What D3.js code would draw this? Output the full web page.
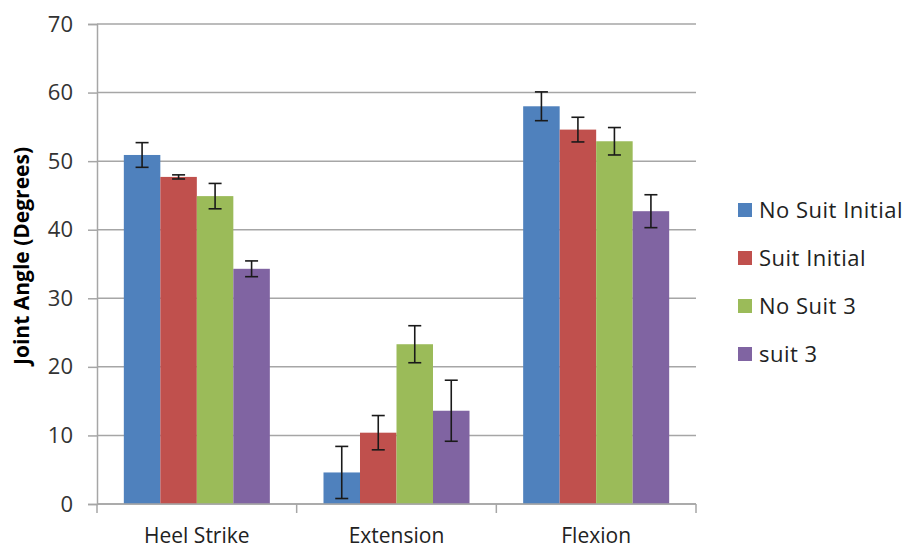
<!DOCTYPE html>
<html>
<head>
<meta charset="utf-8">
<script src="https://cdn.jsdelivr.net/npm/d3@7/dist/d3.min.js"></script>
<style>
  html, body { margin: 0; padding: 0; background: #fff; }
  svg { display: block; font-family: "Open Sans", sans-serif; }
</style>
</head>
<body>
<svg id="chart" width="906" height="548"></svg>
<script>
const categories = ["Heel Strike", "Extension", "Flexion"];
const seriesNames = ["No Suit Initial", "Suit Initial", "No Suit 3", "suit 3"];
const seriesColors = ["#4F81BD", "#C0504D", "#9BBB59", "#8064A2"];
const noSuitInitial = [50.9, 4.6, 58.0];
const suitInitial = [47.7, 10.4, 54.6];
const noSuit3 = [44.9, 23.3, 52.9];
const suit3 = [34.3, 13.6, 42.7];
const errNoSuitInitial = [1.8, 3.8, 2.1];
const errSuitInitial = [0.3, 2.5, 1.8];
const errNoSuit3 = [1.85, 2.7, 2.0];
const errSuit3 = [1.15, 4.45, 2.4];
const yTicks = [0, 10, 20, 30, 40, 50, 60, 70];
const yTitle = "Joint Angle (Degrees)";

const values = [noSuitInitial, suitInitial, noSuit3, suit3];
const errors = [errNoSuitInitial, errSuitInitial, errNoSuit3, errSuit3];

const svg = d3.select("#chart");
const margin = { left: 97, right: 210, top: 24, bottom: 44 };
const W = 906, H = 548;

const y = d3.scaleLinear().domain([0, 70]).range([H - margin.bottom, margin.top]);
const x0 = d3.scaleBand().domain(categories).range([margin.left, W - margin.right]).paddingInner(0).paddingOuter(0);
const x1 = d3.scaleBand().domain(seriesNames).range([0, x0.bandwidth()]).paddingInner(0).paddingOuter(0.735);

const gridColor = "#a6a6a6";

// gridlines
svg.append("g").selectAll("line").data(yTicks).join("line")
  .attr("x1", margin.left).attr("x2", W - margin.right)
  .attr("y1", d => y(d)).attr("y2", d => y(d))
  .attr("stroke", gridColor).attr("stroke-width", 1.5);

// y axis
const yAxis = svg.append("g").attr("transform", `translate(${margin.left},0)`)
  .call(d3.axisLeft(y).tickValues(yTicks).tickSize(9).tickPadding(15).tickFormat(d3.format("d")));
yAxis.select(".domain").attr("stroke", gridColor).attr("stroke-width", 1.5);
yAxis.selectAll(".tick line").attr("stroke", gridColor).attr("stroke-width", 1.5);
yAxis.selectAll(".tick text").attr("font-size", 22).attr("fill", "#333").attr("font-family", "Open Sans, sans-serif");

// bars
const groups = svg.append("g").selectAll("g").data(seriesNames).join("g");
groups.each(function(s, si) {
  const g = d3.select(this);
  g.selectAll("rect").data(categories).join("rect")
    .attr("x", c => x0(c) + x1(s))
    .attr("width", x1.bandwidth())
    .attr("y", (c, ci) => y(values[si][ci]))
    .attr("height", (c, ci) => y(0) - y(values[si][ci]))
    .attr("fill", seriesColors[si]);
});

// x axis
const xAxisG = svg.append("g").attr("transform", `translate(0,${y(0)})`);
xAxisG.append("line").attr("x1", margin.left).attr("x2", W - margin.right)
  .attr("stroke", gridColor).attr("stroke-width", 1.5);
const xBounds = categories.map(c => x0(c)).concat([x0(categories[categories.length - 1]) + x0.bandwidth()]);
xAxisG.selectAll("line.tk").data(xBounds).join("line").attr("class", "tk")
  .attr("x1", d => d).attr("x2", d => d).attr("y1", 0).attr("y2", 9)
  .attr("stroke", gridColor).attr("stroke-width", 1.5);
xAxisG.selectAll("text").data(categories).join("text")
  .attr("x", c => x0(c) + x0.bandwidth() / 2).attr("y", 39)
  .attr("text-anchor", "middle").attr("font-size", 21).attr("fill", "#222")
  .text(c => c);

// error bars
const capW = 13;
const eg = svg.append("g");
seriesNames.forEach((s, si) => {
  categories.forEach((c, ci) => {
    const cx = x0(c) + x1(s) + x1.bandwidth() / 2;
    const v = values[si][ci], e = errors[si][ci];
    const g = eg.append("g").attr("stroke", "#1a1a1a").attr("stroke-width", 1.6);
    g.append("line").attr("x1", cx).attr("x2", cx).attr("y1", y(v + e)).attr("y2", y(v - e));
    g.append("line").attr("x1", cx - capW / 2).attr("x2", cx + capW / 2).attr("y1", y(v + e)).attr("y2", y(v + e));
    g.append("line").attr("x1", cx - capW / 2).attr("x2", cx + capW / 2).attr("y1", y(v - e)).attr("y2", y(v - e));
  });
});

// y title
svg.append("text")
  .attr("transform", `translate(29,256) rotate(-90)`)
  .attr("text-anchor", "middle").attr("font-size", 21).attr("font-weight", "bold").attr("fill", "#000")
  .text(yTitle);

// legend
const legend = svg.append("g").attr("transform", "translate(738,210)");
const li = legend.selectAll("g").data(seriesNames).join("g")
  .attr("transform", (d, i) => `translate(0,${i * 48})`);
li.append("rect").attr("x", 0).attr("y", -7).attr("width", 14).attr("height", 14)
  .attr("fill", (d, i) => seriesColors[i]);
li.append("text").attr("x", 21).attr("y", 0).attr("dy", "0.36em")
  .attr("font-size", 22).attr("letter-spacing", 0.5).attr("fill", "#222").text(d => d);
</script>
</body>
</html>
